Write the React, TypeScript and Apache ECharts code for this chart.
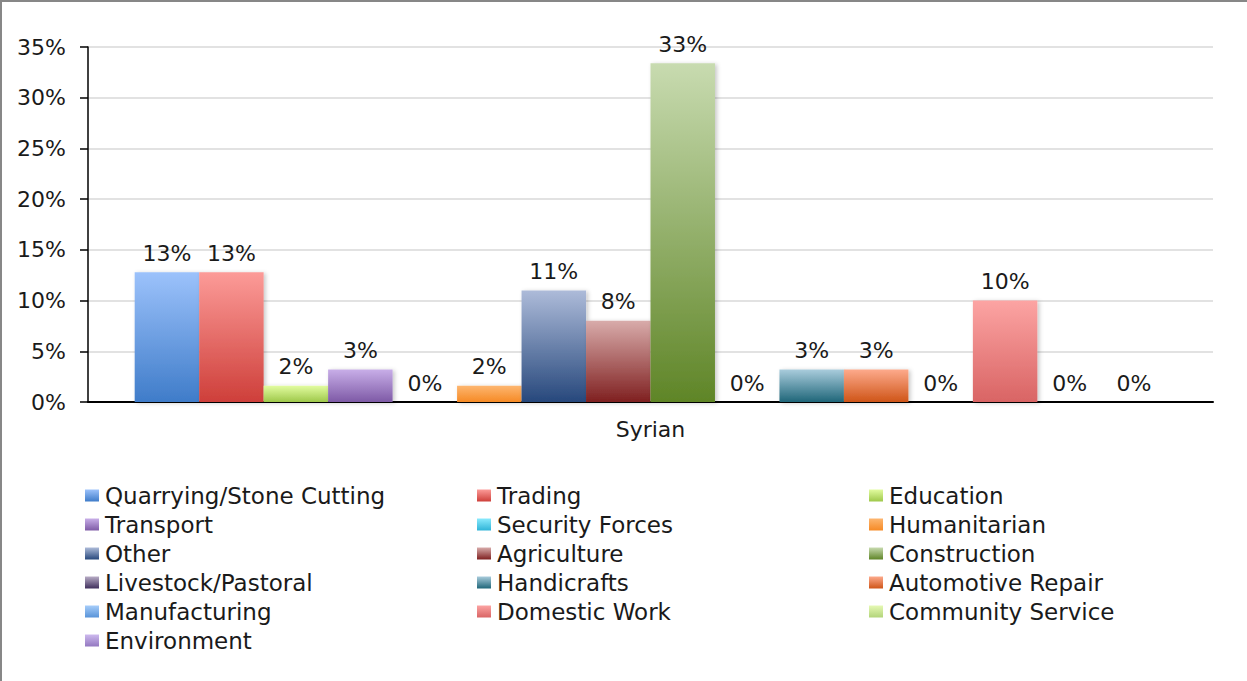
import React, { useEffect, useRef } from "react";
import * as echarts from "echarts";

const categories = ["Syrian"];
const seriesNames = [
  "Quarrying/Stone Cutting", "Trading", "Education", "Transport",
  "Security Forces", "Humanitarian", "Other", "Agriculture",
  "Construction", "Livestock/Pastoral", "Handicrafts", "Automotive Repair",
  "Manufacturing", "Domestic Work", "Community Service", "Environment",
];
const seriesValues = [12.8, 12.8, 1.6, 3.2, 0, 1.6, 11.0, 8.0, 33.4, 0, 3.2, 3.2, 0, 10.0, 0, 0];
const topColors = [
  "#9cc2fb", "#fc9b98", "#e2fca0", "#c8aee8", "#8aeafd", "#fdb670", "#adbbd9", "#d8abaa",
  "#c8dbb0", "#b8acc6", "#a9ccdc", "#fdaa8c", "#a6cdfa", "#fca4a3", "#e6f9b4", "#cdb9ee",
];
const bottomColors = [
  "#3f7cc9", "#ce3f3a", "#9ec84a", "#7e5aa6", "#2fb4d8", "#f68a25", "#27487c", "#7f2020",
  "#5f8527", "#3f2f5c", "#1f6679", "#cf5518", "#5893d8", "#d96464", "#b2d47a", "#9378c0",
];
const yTicks = [0, 5, 10, 15, 20, 25, 30, 35];
const legendCol1 = ["Quarrying/Stone Cutting", "Transport", "Other", "Livestock/Pastoral", "Manufacturing", "Environment"];
const legendCol2 = ["Trading", "Security Forces", "Agriculture", "Handicrafts", "Domestic Work"];
const legendCol3 = ["Education", "Humanitarian", "Construction", "Automotive Repair", "Community Service"];

const FONT = "DejaVu Sans";
const TEXT = "#1a1a1a";

export default function App() {
  const ref = useRef<HTMLDivElement>(null);
  useEffect(() => {
    if (!ref.current) return;
    const chart = echarts.init(ref.current, undefined, { renderer: "svg" });
    const legendBase = {
      orient: "vertical" as const,
      top: 484,
      padding: 0,
      itemWidth: 14,
      itemHeight: 12,
      itemGap: 6,
      icon: "rect",
      selectedMode: false,
      textStyle: { fontFamily: FONT, fontSize: 23, color: TEXT, lineHeight: 23, padding: [0, 0, 0, 1] },
    };
    chart.setOption({
      animation: false,
      textStyle: { fontFamily: FONT },
      grid: { left: 88, right: 34, top: 47, bottom: 279, containLabel: false },
      legend: [
        { ...legendBase, left: 85, data: legendCol1 },
        { ...legendBase, left: 477, data: legendCol2 },
        { ...legendBase, left: 869, data: legendCol3 },
      ],
      xAxis: {
        type: "category",
        data: categories,
        axisLine: { lineStyle: { color: "#000", width: 2 } },
        axisTick: { show: false },
        axisLabel: { fontFamily: FONT, fontSize: 22, color: TEXT, margin: 16 },
      },
      yAxis: {
        type: "value",
        min: yTicks[0],
        max: yTicks[yTicks.length - 1],
        interval: 5,
        axisLine: { show: true, lineStyle: { color: "#000", width: 1.5 } },
        axisTick: { show: true, length: 8, lineStyle: { color: "#000", width: 1.5 } },
        splitLine: { lineStyle: { color: "#d9d9d9", width: 1.5 } },
        axisLabel: { fontFamily: FONT, fontSize: 22, color: TEXT, margin: 22, formatter: "{value}%" },
      },
      series: seriesNames.map((name, i) => ({
        type: "bar",
        name,
        data: [seriesValues[i]],
        barGap: "0%",
        barCategoryGap: "8.3%",
        emphasis: { disabled: true },
        itemStyle: {
          color: new echarts.graphic.LinearGradient(0, 0, 0, 1, [
            { offset: 0, color: topColors[i] },
            { offset: 1, color: bottomColors[i] },
          ]),
          shadowColor: "rgba(0,0,0,0.22)",
          shadowBlur: 4,
          shadowOffsetX: 2,
          shadowOffsetY: 1,
        },
        label: {
          show: true,
          position: "top",
          distance: 8,
          fontFamily: FONT,
          fontSize: 22,
          color: TEXT,
          formatter: (p: any) => Math.round(p.value) + "%",
        },
      })),
    });
    return () => chart.dispose();
  }, []);
  return (
    <div style={{ position: "absolute", left: 0, top: 0, width: 1247, height: 681, background: "#fff" }}>
      <div ref={ref} style={{ position: "absolute", left: 0, top: 0, width: 1247, height: 681 }} />
      <div
        style={{
          position: "absolute", left: 0, top: 0, width: 1247, height: 681, boxSizing: "border-box",
          borderTop: "2px solid #878787", borderLeft: "2px solid #878787", pointerEvents: "none",
        }}
      />
    </div>
  );
}
